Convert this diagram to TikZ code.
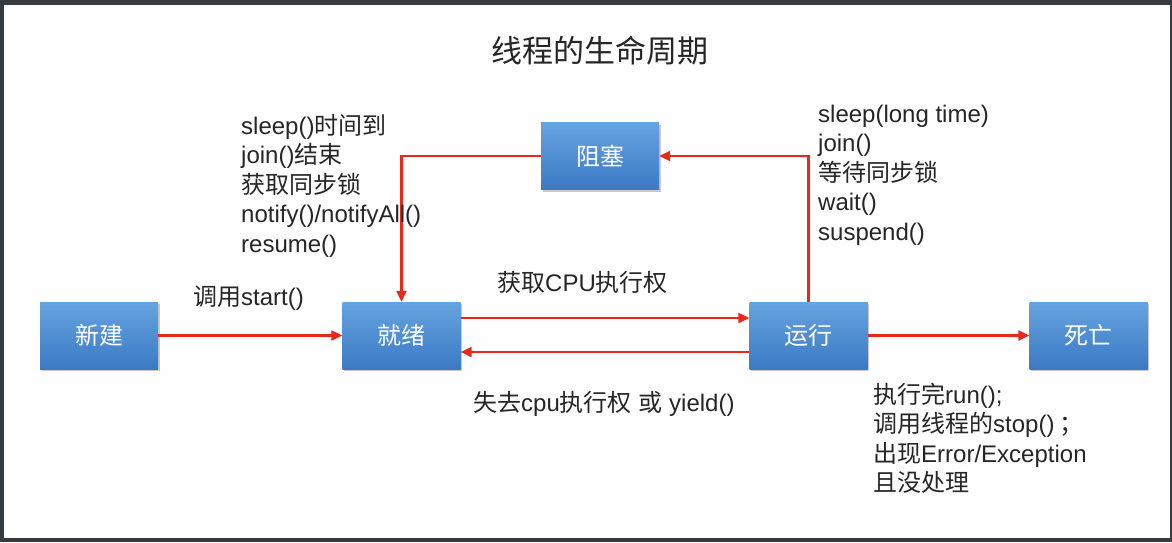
\documentclass[tikz,border=0pt]{standalone}
\usepackage{fontspec}
\setmainfont{Liberation Sans}
\newfontfamily\cjk{Noto Sans CJK SC}
\newcommand{\zh}[1]{{\cjk #1}}
\usetikzlibrary{arrows.meta,shadows}
\definecolor{frame}{HTML}{363B41}
\definecolor{paper}{HTML}{FDFEFD}
\definecolor{boxtop}{HTML}{66A3E0}
\definecolor{boxbot}{HTML}{3B7AC4}
\definecolor{arrred}{HTML}{E8281B}
\definecolor{txt}{HTML}{262626}
\tikzset{
  state/.style={rectangle, inner sep=0pt, minimum width=118pt, minimum height=67pt,
    top color=boxtop, bottom color=boxbot, text=white,
    font=\cjk\fontsize{24}{28}\selectfont,
    drop shadow={shadow xshift=1.5pt, shadow yshift=-2pt, opacity=0.3, fill=black!70}},
  lbl/.style={anchor=base west, inner sep=0pt, text=txt, font=\fontsize{24}{29}\selectfont},
  arr/.style={draw=arrred, line width=2.2pt, -{Triangle[length=11pt,width=10pt]}},
}
\begin{document}
\begin{tikzpicture}[x=1pt,y=-1pt]
\fill[frame] (0,0) rectangle (1172,542);
\fill[paper] (4,5) rectangle (1170,538);
\useasboundingbox (0,0) rectangle (1172,542);

\node[anchor=base, inner sep=0pt, text=txt, font=\cjk\fontsize{31}{36}\selectfont] (title) at (600,62) {线程的生命周期};

\node[state] (xj) at (99,335.5) {新建};
\node[state] (jx) at (401.5,335.5) {就绪};
\node[state] (zs) at (600,156) {阻塞};
\node[state] (yx) at (808.5,335.5) {运行};
\node[state] (sw) at (1088.5,335.5) {死亡};

\draw[arr] (xj.east) -- (jx.west);
\draw[arr] ([yshift=17.5pt]jx.east) -- ([yshift=17.5pt]yx.west);
\draw[arr] ([yshift=-16.5pt]yx.west) -- ([yshift=-16.5pt]jx.east);
\draw[arr] (yx.east) -- (sw.west);
\draw[arr] (yx.north) -- (yx.north |- zs.east) -- (zs.east);
\draw[arr] (zs.west) -| (jx.north);

\node[lbl] (a1) at (241,134) {sleep()\zh{时间到}};
\node[lbl] (a2) at (241,163.5) {join()\zh{结束}};
\node[lbl] (a3) at (241,193) {\zh{获取同步锁}};
\node[lbl] (a4) at (241,222.5) {notify()/notifyAll()};
\node[lbl] (a5) at (241,252) {resume()};

\node[lbl] (b1) at (818,122) {sleep(long time)};
\node[lbl] (b2) at (818,151.5) {join()};
\node[lbl] (b3) at (818,181) {\zh{等待同步锁}};
\node[lbl] (b4) at (818,210.5) {wait()};
\node[lbl] (b5) at (818,240) {suspend()};

\node[lbl] (c1) at (193,305) {\zh{调用}start()};
\node[lbl] (c2) at (497,291) {\zh{获取}CPU\zh{执行权}};
\node[lbl] (c3) at (473,411) {\zh{失去}cpu\zh{执行权} \zh{或} yield()};

\node[lbl] (d1) at (873,403) {\zh{执行完}run();};
\node[lbl] (d2) at (873,432.5) {\zh{调用线程的}stop()\hspace{5pt}\zh{；}};
\node[lbl] (d3) at (873,462) {\zh{出现}Error/Exception};
\node[lbl] (d4) at (873,491.5) {\zh{且没处理}};
\end{tikzpicture}
\end{document}
